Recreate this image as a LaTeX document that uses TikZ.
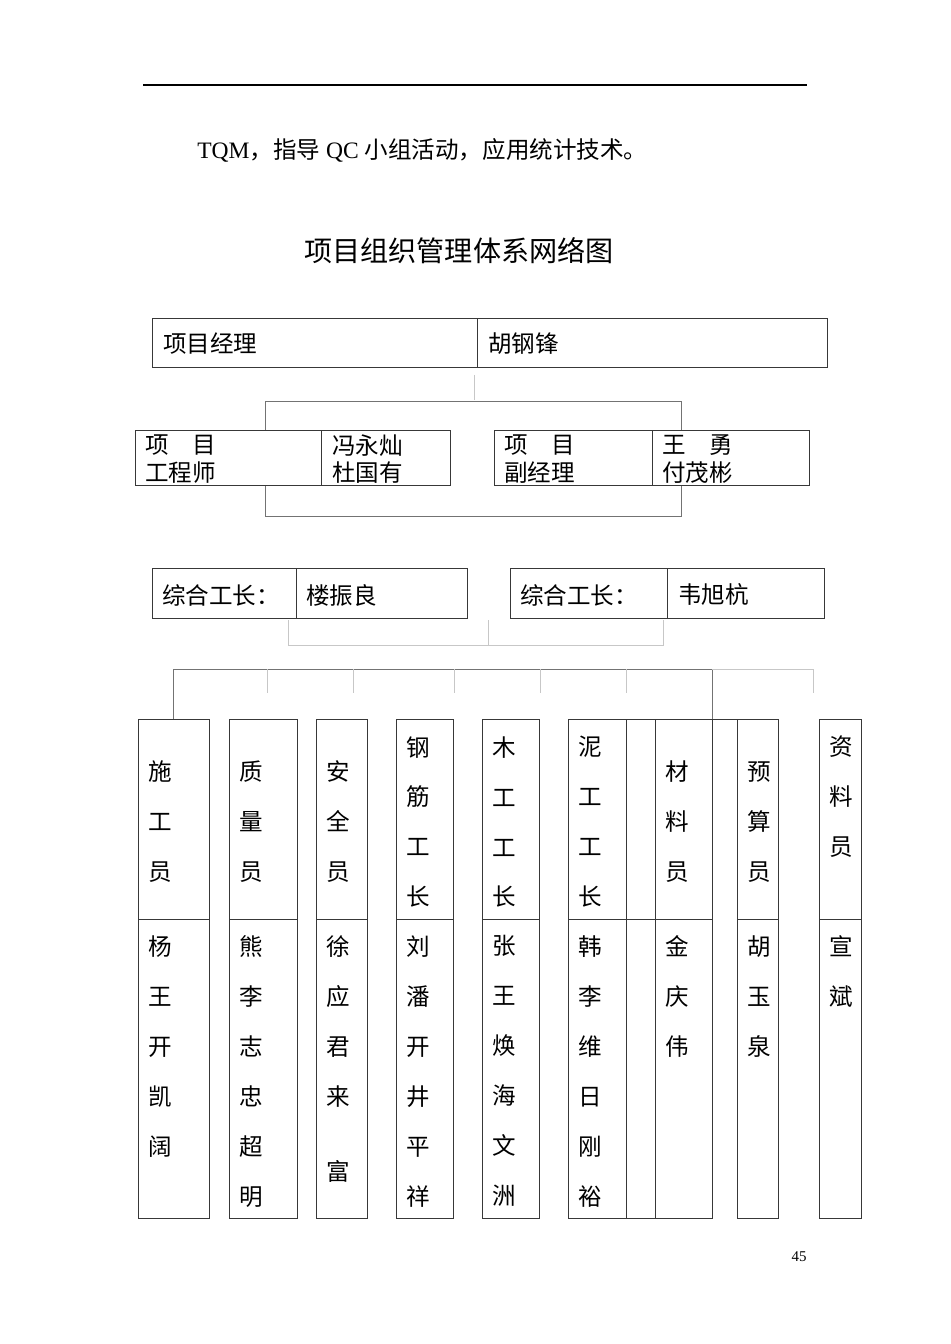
\documentclass[tikz,border=0pt]{standalone}
\usepackage{fontspec}
\setmainfont{Liberation Serif}
\newfontfamily\cjk{Noto Sans CJK SC}

% a framed cell from (x1,y1) to (x2,y2), in page pixels
\newcommand\orgcell[5]{%
	\node[cellbox, minimum width={(#4-#2)*0.02cm}, minimum height={(#5-#3)*0.02cm}] (#1) at (#2,#3) {};}

\tikzset{
	cellbox/.style={draw=black!78, fill=white, line width=0.5pt, inner sep=0pt, outer sep=0pt, anchor=north west},
	txt/.style={font=\cjk\fontsize{13.4pt}{15.6pt}\selectfont, inner sep=0pt, align=left},
	coltxt/.style={font=\cjk\fontsize{13.4pt}{28.45pt}\selectfont, inner sep=0pt, align=center},
	link/.style={draw=black!55, line width=0.5pt},
	light/.style={draw=black!22, line width=0.5pt}
}

\begin{document}
\begin{tikzpicture}[x=0.02cm, y=-0.02cm]
	\useasboundingbox (0,0) rectangle (950,1344);

	%header
	\draw[line width=1.1pt] (143,85) -- (807,85);
	\node[anchor=west, inner sep=0pt, font=\fontsize{13.4pt}{15.4pt}\selectfont] (intro) at (197,150)
		{TQM{\cjk ，指导} QC {\cjk 小组活动，应用统计技术。}};
	\node[font=\cjk\fontsize{16pt}{18pt}\selectfont] (title) at (459,251) {项目组织管理体系网络图};

	%connectors
	\coordinate (pmfoot) at (474,375);
	\coordinate (split) at (474,400);
	\draw[light] (pmfoot) -- (split);
	\coordinate (ring tl) at (265,401);
	\coordinate (ring br) at (681,516);
	\draw[link] (ring tl) rectangle (ring br);

	\draw[light] (288,620) -- (288,645) -- (663,645) -- (663,620);
	\draw[light] (488,620) -- (488,645);

	\draw[link] (173,719) -- (173,669) -- (712,669) -- (712,719);
	\draw[light] (712,669) -- (813,669) -- (813,693);
	\foreach \x in {267,353,454,540,626}
		\draw[light] (\x,669) -- (\x,693);

	%manager
	\orgcell{pm-l}{152}{318}{477}{367}
	\orgcell{pm-r}{477}{318}{827}{367}
	\node[txt, anchor=west] (pm-role) at (163,344) {项目经理};
	\node[txt, anchor=west] (pm-name) at (488,344) {胡钢锋};

	%engineer and deputy
	\orgcell{eng-l}{135}{430}{321}{485}
	\orgcell{eng-r}{321}{430}{450}{485}
	\node[txt, anchor=west] (eng-role) at (145,459) {项　目\\工程师};
	\node[txt, anchor=west] (eng-name) at (332,459) {冯永灿\\杜国有};

	\orgcell{dep-l}{494}{430}{652}{485}
	\orgcell{dep-r}{652}{430}{809}{485}
	\node[txt, anchor=west] (dep-role) at (504,459) {项　目\\副经理};
	\node[txt, anchor=west] (dep-name) at (662,459) {王　勇\\付茂彬};

	%foremen
	\orgcell{fa-l}{152}{568}{296}{618}
	\orgcell{fa-r}{296}{568}{467}{618}
	\node[txt, anchor=west] (fa-role) at (162,595) {综合工长：};
	\node[txt, anchor=west] (fa-name) at (306,595) {楼振良};

	\orgcell{fb-l}{510}{568}{667}{618}
	\orgcell{fb-r}{667}{568}{824}{618}
	\node[txt, anchor=west] (fb-role) at (520,595) {综合工长：};
	\node[txt, anchor=west] (fb-name) at (678,595) {韦旭杭};

	%staff columns
	\orgcell{gap-up}{626}{719}{655}{919}
	\orgcell{gap-low}{626}{919}{655}{1218}
	\draw[cellbox] (712,719) -- (737,719);

	\foreach \n/\xa/\xb/\yc/\up/\down in {
		shi/138/209/822/{施\\工\\员}/{杨\\王\\开\\凯\\阔},
		zhi/229/297/822/{质\\量\\员}/{熊\\李\\志\\忠\\超\\明},
		an/316/367/822/{安\\全\\员}/{徐\\应\\君\\来\\[0.5cm]富},
		gang/396/453/822/{钢\\筋\\工\\长}/{刘\\潘\\开\\井\\平\\祥},
		mu/482/539/822/{木\\工\\工\\长}/{张\\王\\焕\\海\\文\\洲},
		ni/568/626/822/{泥\\工\\工\\长}/{韩\\李\\维\\日\\刚\\裕},
		cai/655/712/822/{材\\料\\员}/{金\\庆\\伟},
		yu/737/778/822/{预\\算\\员}/{胡\\玉\\泉},
		zl/819/861/797/{资\\料\\员}/{宣\\斌}}
	{
		\orgcell{\n-up}{\xa}{719}{\xb}{919}
		\orgcell{\n-low}{\xa}{919}{\xb}{1218}
		\node[coltxt, anchor=west] (\n-role) at (\xa+10,\yc) {\up};
		\node[coltxt, anchor=north west] (\n-name) at (\xa+10,935) {\down};
	}

	%page number
	\node[font=\fontsize{8.5pt}{10pt}\selectfont] (pageno) at (799,1257) {45};
\end{tikzpicture}
\end{document}
